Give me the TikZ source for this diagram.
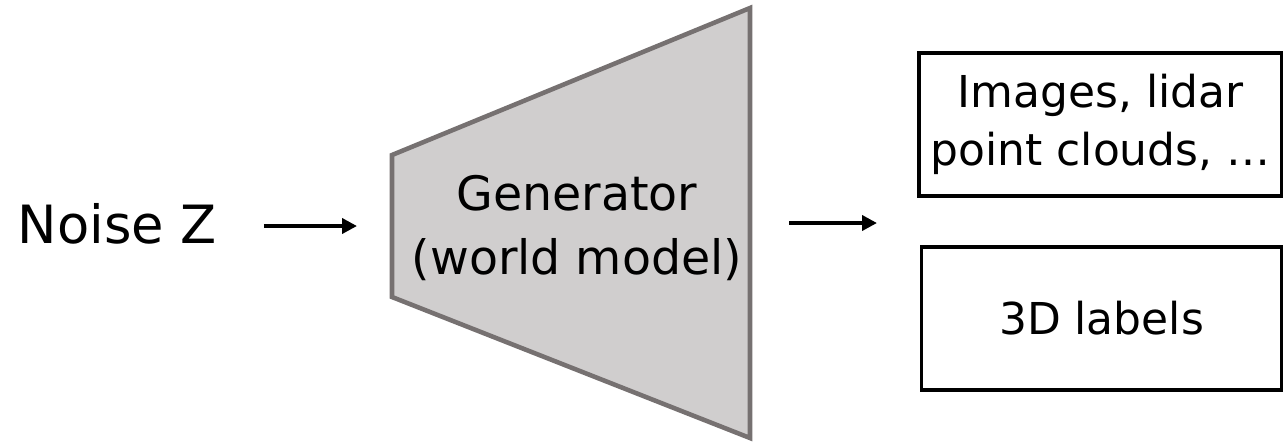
\documentclass[tikz,border=0pt]{standalone}
\usepackage{fontspec}
\setmainfont{DejaVu Sans}
\usetikzlibrary{arrows.meta}
\definecolor{genfill}{HTML}{D0CECE}
\definecolor{gendraw}{HTML}{767171}
\begin{document}
\begin{tikzpicture}
[ar/.style={-{Triangle[length=1.5mm,width=1.5mm]},line width=1.25pt},
outbox/.style={
  draw, line width=1.1pt, minimum width=3.6cm, minimum height=1.43cm,
  align=center, font=\fontsize{12.5}{16.5}\selectfont
  }
]

\tikzstyle{txt}  =  [inner sep=0pt, align=center]

\useasboundingbox (0,0) rectangle (12.83,-4.44);

% generator body, wide end on the right
\draw[gendraw, fill=genfill, line width=1.3pt, line join=miter]
  (3.92,-1.55) -- (7.50,-0.08) -- (7.50,-4.38) -- (3.92,-2.97) -- cycle;
\coordinate (gin) at (3.92,-2.26);
\coordinate (gout) at (7.50,-2.23);

\node[txt, font=\fontsize{15}{18}\selectfont] (noise) at (1.175,-2.24) {Noise Z};
\node[txt, font=\fontsize{13.5}{18.2}\selectfont] (gen) at (5.77,-2.28) {Generator\\(world model)};

\node[outbox] (img) at (11.005,-1.245) {Images, lidar\\point clouds, …};
\node[outbox] (lbl) at (11.015,-3.185) {3D labels};

%edges

\draw[ar, shorten <=0.46cm, shorten >=0.35cm] (noise.east |- gin) -- (gin);
\draw[ar, shorten <=0.39cm, shorten >=0.40cm] (gout) -- (gout -| img.west);

\end{tikzpicture}
\end{document}
